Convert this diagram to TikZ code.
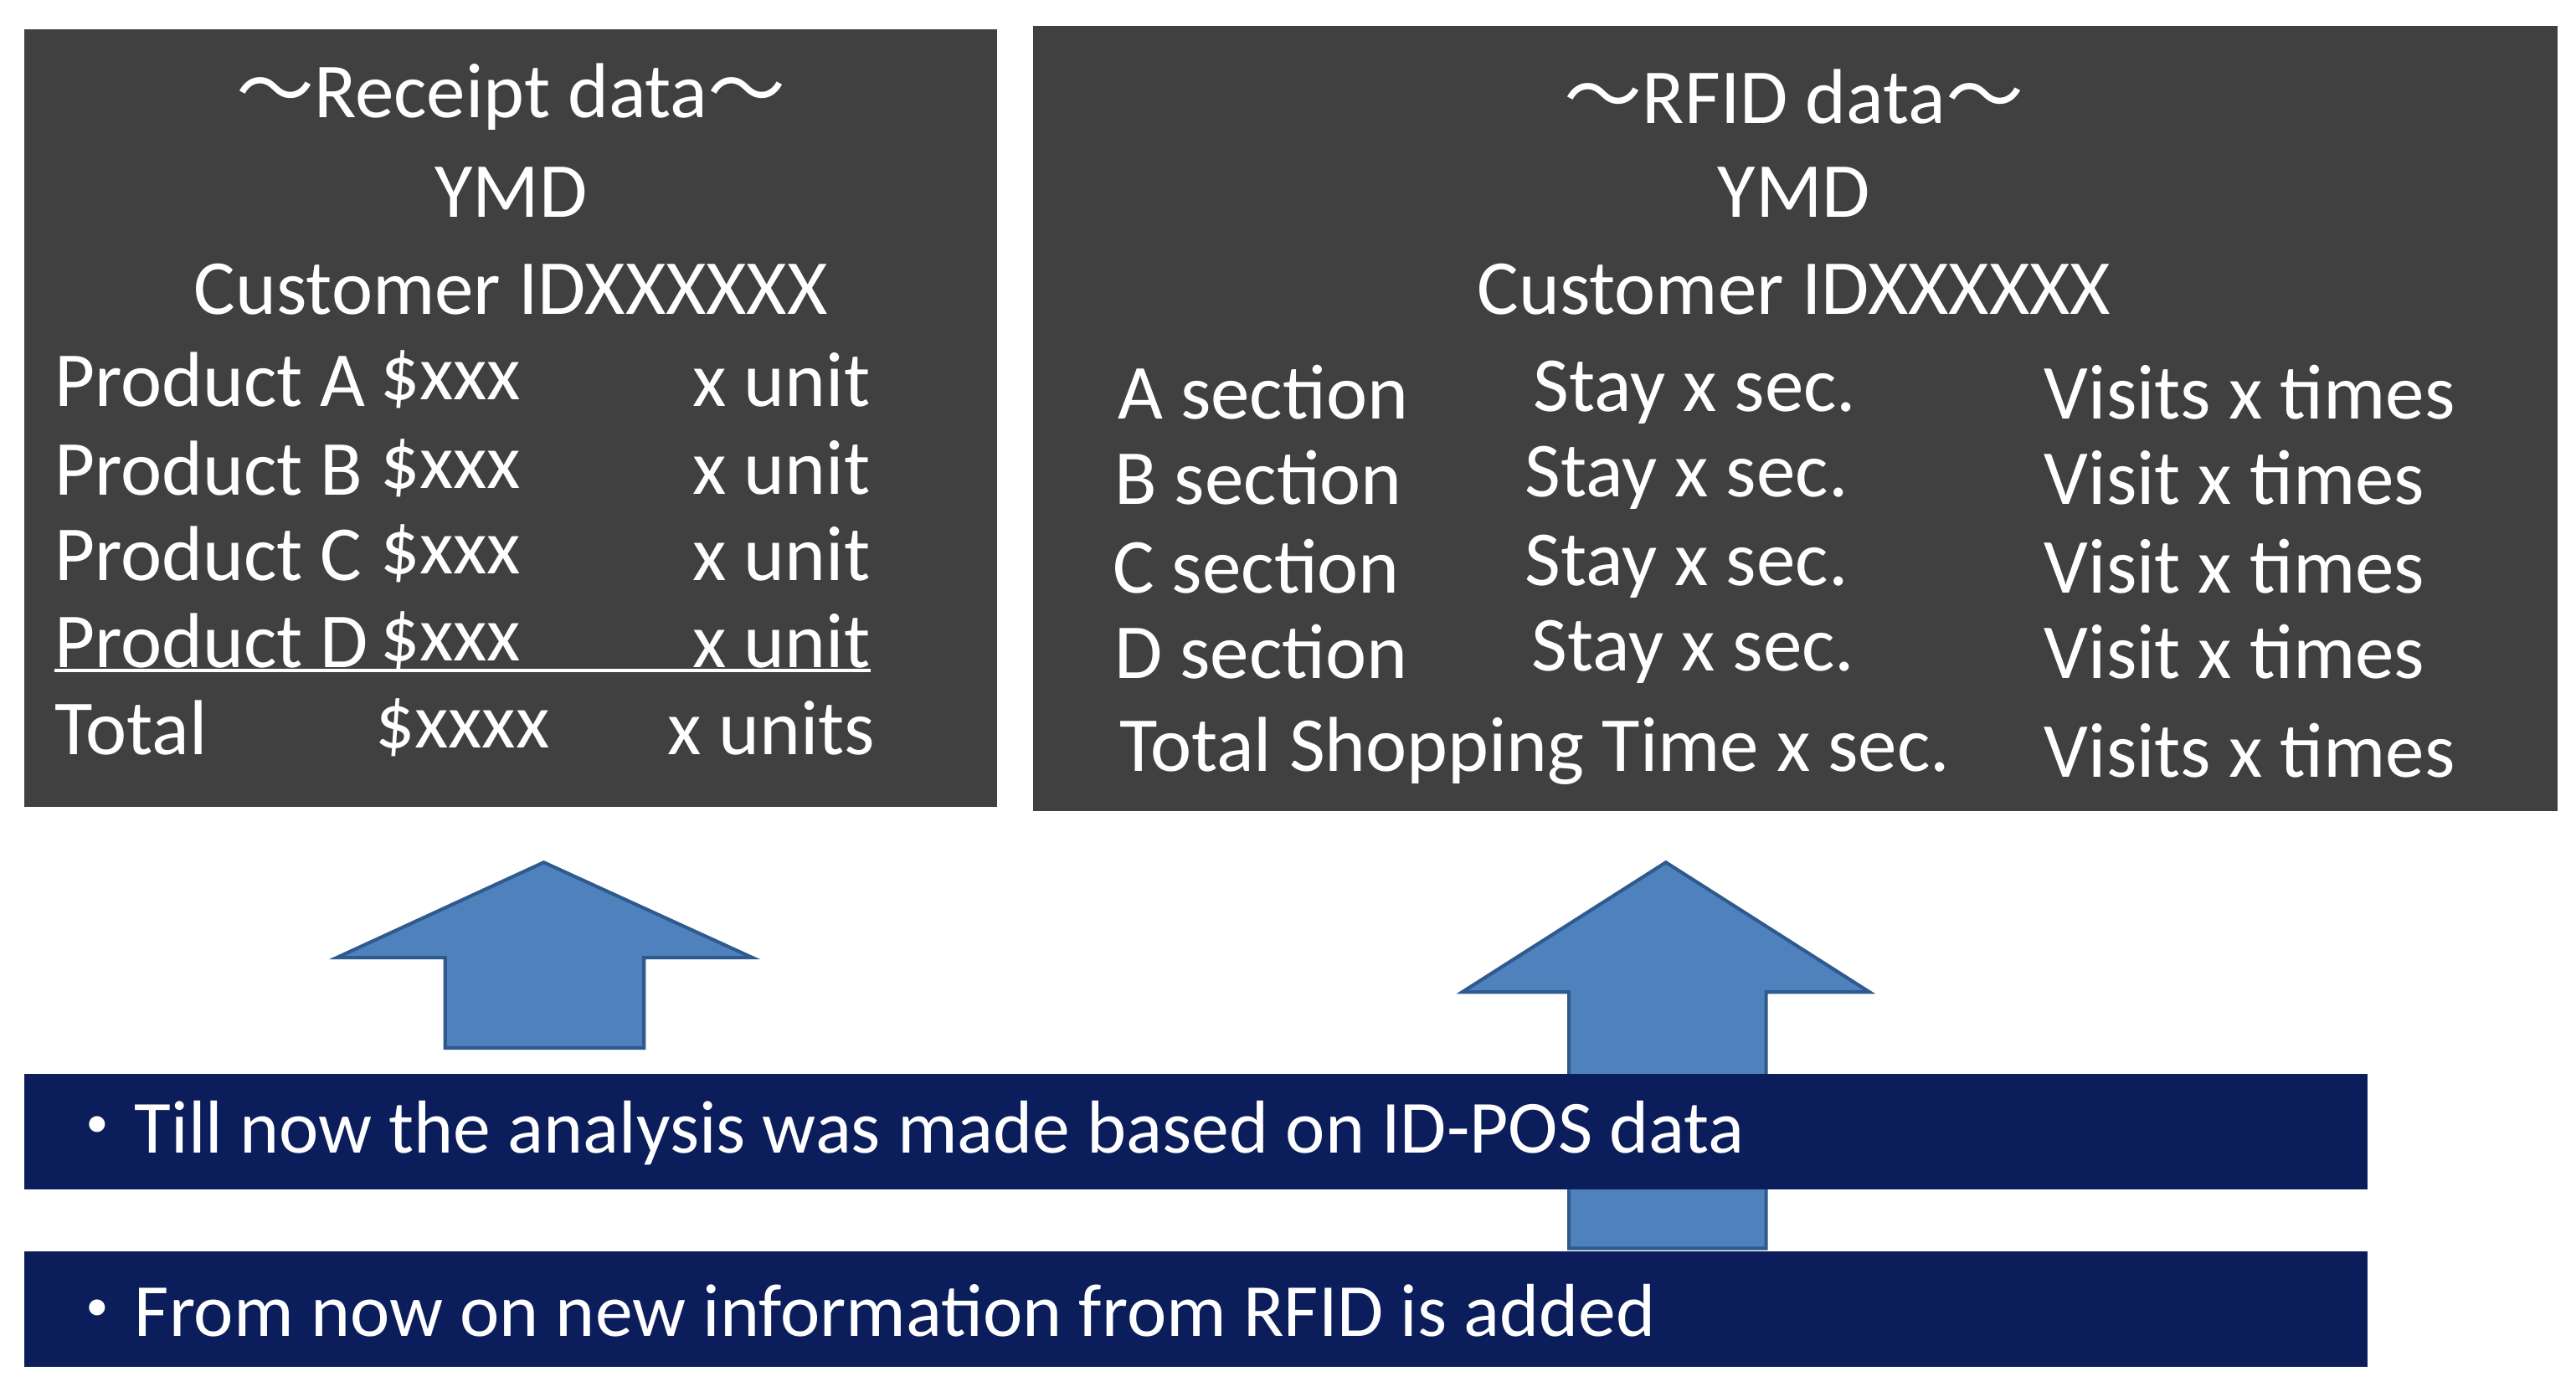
\documentclass[tikz,border=0pt]{standalone}
\usepackage{fontspec}
\setmainfont{Carlito}
\newfontfamily\cjk{Noto Sans CJK JP}
\definecolor{boxgray}{HTML}{404040}
\definecolor{arrowblue}{HTML}{4F81BD}
\definecolor{arrowedge}{HTML}{2F5A8E}
\definecolor{navy}{HTML}{0B1E5B}
\begin{document}
\begin{tikzpicture}[x=0.02cm,y=-0.02cm,
  txt/.style={text=white,font=\fontsize{27}{30}\selectfont,inner sep=0pt},
  lt/.style={txt,anchor=west},
  rt/.style={txt,anchor=east},
  ct/.style={txt,anchor=center},
  bt/.style={text=white,font=\fontsize{26}{30}\selectfont,inner sep=0pt,anchor=west},
  arr/.style={fill=arrowblue,draw=arrowedge,line width=1.2pt,line join=miter},
  banner/.style={fill=navy,draw=none}]
\useasboundingbox (0,0) rectangle (1568,850);
% boxes
\fill[boxgray] (15,18) rectangle (607,491);
\fill[boxgray] (629,16) rectangle (1557,494);
% left box text
\node[ct] (rt1) at (311,59) {{\cjk ～}Receipt data{\cjk ～}};
\node[ct] (rt2) at (311,117) {YMD};
\node[ct] (rt3) at (311,176) {Customer IDXXXXXX};
\foreach \n/\y in {A/231,B/285,C/337,D/390}{
  \node[lt] (p\n) at (33,\y) {Product \n};
  \node[lt] (d\n) at (231,\y) {\$xxx};
  \node[rt] (u\n) at (530,\y) {x unit};
}
\draw[white,line width=1.2pt] (33,408) -- (530,408);
\node[lt] (tot) at (33,443) {Total};
\node[lt] (totd) at (228,443) {\$xxxx};
\node[rt] (totu) at (533,443) {x units};
% right box text
\node[ct] (ft1) at (1092,59) {{\cjk ～}RFID data{\cjk ～}};
\node[ct] (ft2) at (1092,117) {YMD};
\node[ct] (ft3) at (1092,176) {Customer IDXXXXXX};
\node[lt] (sa) at (680,239) {A section};
\node[lt] (ya) at (933,239) {Stay x sec.};
\node[lt] (va) at (1244,239) {Visits x times};
\node[lt] (sb) at (678,291) {B section};
\node[lt] (yb) at (928,291) {Stay x sec.};
\node[lt] (vb) at (1244,291) {Visit x times};
\node[lt] (sc) at (677,345) {C section};
\node[lt] (yc) at (928,345) {Stay x sec.};
\node[lt] (vc) at (1244,345) {Visit x times};
\node[lt] (sd) at (678,397) {D section};
\node[lt] (yd) at (932,397) {Stay x sec.};
\node[lt] (vd) at (1244,397) {Visit x times};
\node[lt] (st) at (681,457) {Total Shopping Time x sec.};
\node[lt] (vt) at (1244,457) {Visits x times};
% arrows
\draw[arr] (331,525) -- (458,583) -- (392,583) -- (392,638) -- (271,638) -- (271,583) -- (205,583) -- cycle;
\draw[arr] (1014,525) -- (1138,604) -- (1075,604) -- (1075,760) -- (955,760) -- (955,604) -- (890,604) -- cycle;
% banners
\fill[banner] (15,654) rectangle (1441,724);
\fill[banner] (15,762) rectangle (1441,832);
\node[bt] (b1) at (36,690) {{\cjk ・}Till now the analysis was made based on ID-POS data};
\node[bt] (b2) at (36,798) {{\cjk ・}From now on new information from RFID is added};
\end{tikzpicture}
\end{document}
